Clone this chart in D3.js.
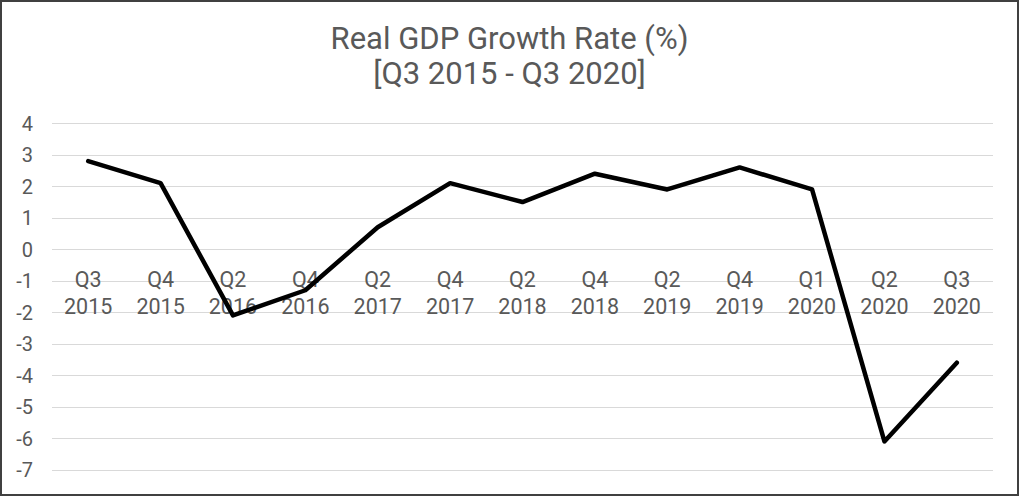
<!DOCTYPE html>
<html><head><meta charset="utf-8">
<script src="https://cdn.jsdelivr.net/npm/d3@7/dist/d3.min.js"></script>
<style>html,body{margin:0;padding:0;background:#fff;}svg{display:block;}</style>
</head><body>
<svg id="c" width="1019" height="496"></svg>
<script>
const quarters = ["Q3","Q4","Q2","Q4","Q2","Q4","Q2","Q4","Q2","Q4","Q1","Q2","Q3"];
const years    = ["2015","2015","2016","2016","2017","2017","2018","2018","2019","2019","2020","2020","2020"];
const growth   = [2.8, 2.1, -2.1, -1.3, 0.7, 2.1, 1.5, 2.4, 1.9, 2.6, 1.9, -6.1, -3.6];
const yTicks   = [4,3,2,1,0,-1,-2,-3,-4,-5,-6,-7];
const titleLines = ["Real GDP Growth Rate (%)", "[Q3 2015 - Q3 2020]"];

const W = 1019, H = 496;
const svg = d3.select("#c");
const font = "Roboto, 'Open Sans', sans-serif";
const txt = "#595959";

svg.append("rect").attr("x",1).attr("y",1).attr("width",W-2).attr("height",H-2)
  .attr("fill","#fff").attr("stroke","#404040").attr("stroke-width",2);

const cats = growth.map((d,i)=>i);
const x = d3.scaleBand().domain(cats).range([52, 993]);
const y = d3.scaleLinear().domain([-7, 4]).range([469.8, 123.3]);

// gridlines
svg.append("g").selectAll("line").data(yTicks).join("line")
  .attr("x1",52).attr("x2",993)
  .attr("y1",d=>Math.round(y(d))+0.5).attr("y2",d=>Math.round(y(d))+0.5)
  .attr("stroke","#d9d9d9").attr("stroke-width",1);

// y axis labels
const yAxis = d3.axisLeft(y).tickValues(yTicks).tickSize(0).tickPadding(0).tickFormat(d=>String(d));
const gy = svg.append("g").attr("transform","translate(33,0)").call(yAxis);
gy.select(".domain").remove();
gy.selectAll("text").attr("fill",txt).style("font-family",font).style("font-size","20px").attr("dy","0.35em");

// category labels near zero
const gx = svg.append("g");
cats.forEach(i=>{
  const cx = x(i) + x.bandwidth()/2;
  const t = gx.append("text").attr("text-anchor","middle").attr("fill",txt)
    .style("font-family",font).style("font-size","21.5px");
  t.append("tspan").attr("x",cx).attr("y",286.5).text(quarters[i]);
  t.append("tspan").attr("x",cx).attr("y",314).text(years[i]);
});

// line
const line = d3.line().x((d,i)=>x(i)+x.bandwidth()/2).y(d=>y(d));
svg.append("path").datum(growth).attr("d",line)
  .attr("fill","none").attr("stroke","#000").attr("stroke-width",4.5)
  .attr("stroke-linejoin","round").attr("stroke-linecap","round");

// title
const tt = svg.append("text").attr("text-anchor","middle").attr("fill",txt)
  .style("font-family",font).style("font-size","31px");
titleLines.forEach((s,k)=>tt.append("tspan").attr("x",509.5).attr("y",48.5+k*35).text(s));
</script>
</body></html>
